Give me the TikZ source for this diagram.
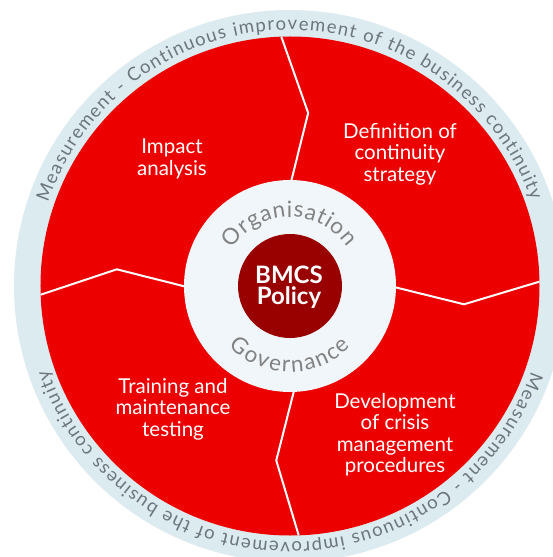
\documentclass[tikz,border=0pt]{standalone}
\usepackage{fontspec}
\setmainfont{Lato}
\usepackage{xcolor}
\usetikzlibrary{decorations.text}
\definecolor{bcred}{RGB}{236,0,0}
\definecolor{bcdark}{RGB}{153,0,0}
\definecolor{bclight}{RGB}{240,246,249}
\definecolor{bcring}{RGB}{220,235,240}
\definecolor{bcgray}{RGB}{130,130,130}
\definecolor{bcringgray}{RGB}{108,118,124}
\newcommand\bcinnerfont{\color{bcgray}\fontsize{22.5}{22.5}\selectfont}
\newcommand\bcouterfont{\color{bcringgray}\fontsize{18.5}{18.5}\selectfont}
\tikzset{
  bc segment/.style={
    text=white,
    align=center,
    font=\fontsize{20.5}{21.5}\selectfont,
    inner sep=0pt,
  },
  bc policy/.style={
    text=white,
    align=center,
    font=\bfseries\fontsize{24}{21}\selectfont,
    inner sep=0pt,
  },
  bc divider/.style={draw=white, line width=2pt, line join=miter},
  bc ring text/.style={
    decorate,
    decoration={text along path, text align=fit to path, text={#1}},
  },
}

\begin{document}
\begin{tikzpicture}[x=1pt,y=1pt]
  \useasboundingbox (-290,-271) rectangle (263,286);
  \clip (-290,-271) rectangle (263,286);
  \fill[white] (-290,-271) rectangle (263,286);

  \coordinate (centre) at (0,0);
  \fill[bcring] (centre) circle[radius=276];
  \fill[bcred] (centre) circle[radius=249.5];

  \draw[bc divider] (90:100) -- (84:174) -- (92:249.5);
  \draw[bc divider] (0:100) -- (-6:175) -- (1:249.5);
  \draw[bc divider] (-87:100) -- (-94.5:175) -- (-88:249.5);
  \draw[bc divider] (181:100) -- (174.5:174) -- (182:249.5);

  \fill[bclight] (centre) circle[radius=106];
  \fill[bcdark] (centre) circle[radius=52];

  \node[bc policy] (policy) at (-1,-1.5) {BMCS\\Policy};
  \node[bc segment] (impact) at (-118,127) {Impact\\analysis};
  \node[bc segment] (strategy) at (110,132) {Definition of\\continuity\\strategy};
  \node[bc segment] (testing) at (-117,-123) {Training and\\maintenance\\testing};
  \node[bc segment] (crisis) at (105,-148.5) {Development\\of crisis\\management\\procedures};

  \path[bc ring text={|\bcinnerfont|Organisation}]
    (147:69) arc[start angle=147, end angle=34.5, radius=69];
  \path[bc ring text={|\bcinnerfont|Governance}]
    (-135.5:86) arc[start angle=-135.5, end angle=-45, radius=86];
  \path[bc ring text={|\bcouterfont|Measurement - Continuous improvement of the business continuity}]
    (161:256) arc[start angle=161, end angle=19.5, radius=256];
  \path[bc ring text={|\bcouterfont|Measurement - Continuous improvement of the business continuity}]
    (-19.5:256) arc[start angle=-19.5, end angle=-161, radius=256];
\end{tikzpicture}
\end{document}
